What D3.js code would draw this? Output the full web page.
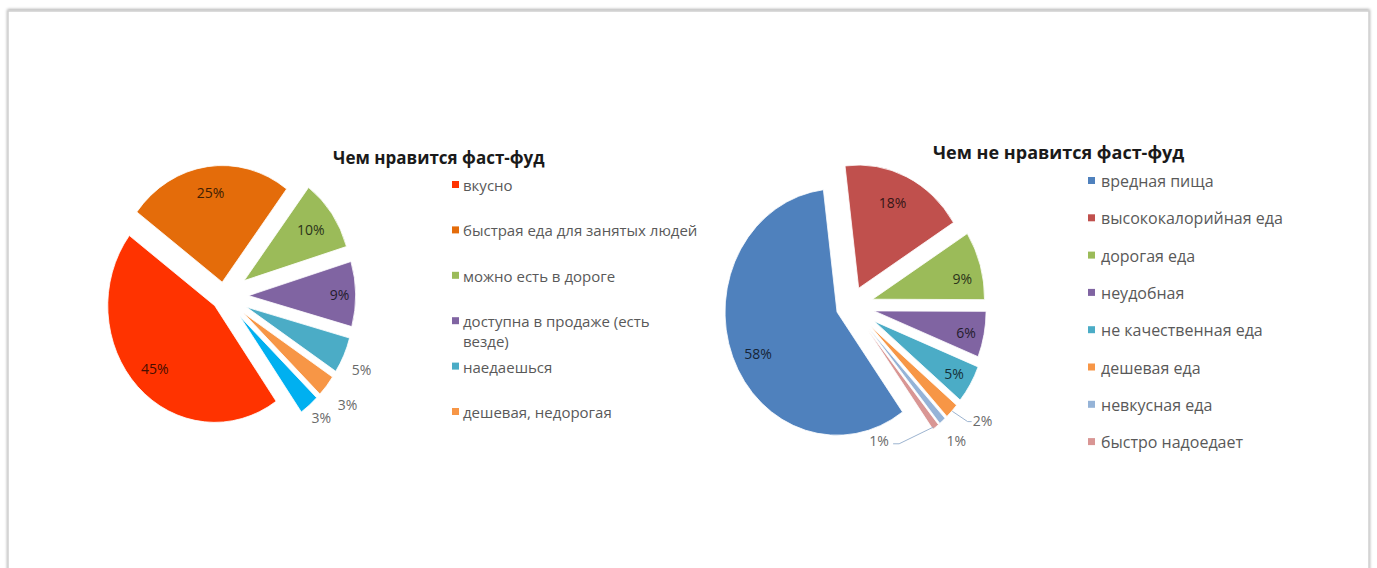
<!DOCTYPE html>
<html><head><meta charset="utf-8">
<script src="https://cdn.jsdelivr.net/npm/d3@7"></script>
<style>
  body { margin: 0; background: #fff; }
  svg { display: block; }
</style>
</head><body>
<svg id="chart" width="1377" height="568"></svg>
<script>
// ---- data: what people like about fast food ----
const likeTitle = "Чем нравится фаст-фуд";
const likeCategories = [
  "вкусно",
  "быстрая еда для занятых людей",
  "можно есть в дороге",
  "доступна в продаже (есть везде)",
  "наедаешься",
  "дешевая, недорогая",
  "другое"
];
const likeValues = [45, 25, 10, 9, 5, 3, 3];
const likeLabels = ["45%", "25%", "10%", "9%", "5%", "3%", "3%"];

// ---- data: what people dislike about fast food ----
const dislikeTitle = "Чем не нравится фаст-фуд";
const dislikeCategories = [
  "вредная пища",
  "высококалорийная еда",
  "дорогая еда",
  "неудобная",
  "не качественная еда",
  "дешевая еда",
  "невкусная еда",
  "быстро надоедает"
];
const dislikeValues = [58, 18, 9, 6, 5, 2, 1, 1];
const dislikeLabels = ["58%", "18%", "9%", "6%", "5%", "2%", "1%", "1%"];

// ---- styling ----
const likeColors = ["#FF3300", "#E46C0A", "#9BBB59", "#8064A2", "#4BACC6", "#F79646", "#00B0F0"];
const dislikeColors = ["#4F81BD", "#C0504D", "#9BBB59", "#8064A2", "#4BACC6", "#F79646", "#95B3D7", "#D99694"];

// explosion of each slice, as a fraction of the radius
const likeExplode = [0.12, 0.12, 0.23, 0.23, 0.23, 0.23, 0.23];
const dislikeExplode = [0.134, 0.16, 0.2, 0.21, 0.24, 0.24, 0.24, 0.24];

// label placement: distance (fraction of radius) from the slice tip, angle shift in degrees
const likeLabelPlace = [
  { f: 0.78 }, { f: 0.78 }, { f: 0.76 }, { f: 0.85 },
  { f: 1.2, da: 2, out: true }, { f: 1.25, da: 0, out: true }, { f: 1.15, da: -1, out: true }
];
const dislikeLabelPlace = [
  { f: 0.78, da: -4 }, { f: 0.76, da: -2 }, { f: 0.82, da: 4 }, { f: 0.84, da: 1 }, { f: 0.83 },
  { f: 1.26, da: -6, out: true, leader: "right" },
  { f: 1.2, da: 0.6, out: true },
  { f: 0.91, da: 31, out: true, leader: "left" }
];

const FONT = "'Open Sans', 'DejaVu Sans', sans-serif";
const svg = d3.select("#chart");
const deg = Math.PI / 180;

// drop shadow for the chart frame
const defs = svg.append("defs");
const shadow = defs.append("filter").attr("id", "frameShadow")
  .attr("x", "-5%").attr("y", "-5%").attr("width", "110%").attr("height", "110%");
shadow.append("feGaussianBlur").attr("in", "SourceAlpha").attr("stdDeviation", 1.6).attr("result", "b");
shadow.append("feOffset").attr("in", "b").attr("dx", 0).attr("dy", -1).attr("result", "o");
shadow.append("feComponentTransfer").attr("in", "o").attr("result", "s")
  .append("feFuncA").attr("type", "linear").attr("slope", 0.35);
const merge = shadow.append("feMerge");
merge.append("feMergeNode").attr("in", "s");
merge.append("feMergeNode").attr("in", "SourceGraphic");

svg.append("rect")
  .attr("x", 8).attr("y", 11).attr("width", 1361).attr("height", 640)
  .attr("fill", "#fff").attr("stroke", "#cfcfcf").attr("stroke-width", 1.5)
  .attr("filter", "url(#frameShadow)");

function polar(a, d) { return [Math.sin(a) * d, -Math.cos(a) * d]; }

function drawPie(opt) {
  const { values, labels, colors, explode, place, cx, cy, r, sy, start } = opt;
  const pie = d3.pie().sort(null).value(d => d)
    .startAngle(start * deg).endAngle(start * deg + 2 * Math.PI);
  const arcs = pie(values);
  const arc = d3.arc().innerRadius(0).outerRadius(r);

  const g = svg.append("g").attr("transform", `translate(${cx},${cy}) scale(1,${sy})`);
  g.selectAll("path").data(arcs).join("path")
    .attr("d", arc)
    .attr("transform", (d, i) => {
      const m = (d.startAngle + d.endAngle) / 2;
      const [ox, oy] = polar(m, explode[i] * r);
      return `translate(${ox},${oy})`;
    })
    .attr("fill", (d, i) => colors[i])
    .attr("stroke", "#fff").attr("stroke-width", 0.8)
    .attr("vector-effect", "non-scaling-stroke");

  const toScreen = (x, y) => [cx + x, cy + y * sy];

  arcs.forEach((d, i) => {
    const p = place[i];
    const m = (d.startAngle + d.endAngle) / 2;
    const [ax, ay] = polar(m, explode[i] * r);
    const [lx, ly] = polar(m + (p.da || 0) * deg, p.f * r);
    const [sx, sy2] = toScreen(ax + lx, ay + ly);
    const col = p.out ? "#6a6a6a" : d3.interpolateRgb(colors[i], "#000")(0.72);

    if (p.leader) {
      const [ex, ey] = polar(m, r * 0.98);
      const [px, py] = toScreen(ax + ex, ay + ey);
      const pts = p.leader === "right"
        ? [[px + 2, py + 2], [sx - 15, sy2 + 1], [sx - 11, sy2 + 1]]
        : [[px - 1, py + 2], [sx + 20, sy2 + 3], [sx + 14, sy2 + 3]];
      svg.append("polyline")
        .attr("points", pts.map(q => q.join(",")).join(" "))
        .attr("fill", "none").attr("stroke", "#9db4d0").attr("stroke-width", 1);
    }

    svg.append("text")
      .attr("x", sx).attr("y", sy2)
      .attr("text-anchor", "middle").attr("dominant-baseline", "central")
      .attr("font-family", FONT).attr("font-size", 14)
      .attr("fill", col)
      .text(labels[i]);
  });
}

function drawLegend(opt) {
  const { categories, colors, count, x, y, step, maxWidth, size, gap } = opt;
  const items = categories.slice(0, count);
  items.forEach((name, i) => {
    const yy = y + i * step;
    svg.append("rect")
      .attr("x", x).attr("y", yy - 4).attr("width", 7).attr("height", 7)
      .attr("fill", colors[i]);
    const t = svg.append("text")
      .attr("x", x + gap).attr("y", yy)
      .attr("dominant-baseline", "central")
      .attr("font-family", FONT).attr("font-size", size)
      .attr("fill", "#595959");
    // simple word wrap
    const words = name.split(" ");
    let line = [];
    let tspan = t.append("tspan").attr("x", x + gap).attr("dy", 0);
    words.forEach(w => {
      line.push(w);
      tspan.text(line.join(" "));
      if (tspan.node().getComputedTextLength() > maxWidth && line.length > 1) {
        line.pop();
        tspan.text(line.join(" "));
        line = [w];
        tspan = t.append("tspan").attr("x", x + gap).attr("dy", 20).text(w);
      }
    });
  });
}

function drawTitle(text, x, y, size) {
  svg.append("text")
    .attr("x", x).attr("y", y)
    .attr("dominant-baseline", "central")
    .attr("font-family", FONT).attr("font-size", size).attr("font-weight", "bold")
    .attr("fill", "#1a1a1a")
    .text(text);
}

// left chart
drawTitle(likeTitle, 333, 157, 17);
drawPie({
  values: likeValues, labels: likeLabels, colors: likeColors,
  explode: likeExplode, place: likeLabelPlace,
  cx: 224, cy: 296, r: 107, sy: 1.09, start: 145
});
drawLegend({
  categories: likeCategories, colors: likeColors, count: 6,
  x: 452, y: 185, step: 45.4, maxWidth: 236, size: 15, gap: 11
});

// right chart
drawTitle(dislikeTitle, 933, 152, 18);
drawPie({
  values: dislikeValues, labels: dislikeLabels, colors: dislikeColors,
  explode: dislikeExplode, place: dislikeLabelPlace,
  cx: 851, cy: 306, r: 112, sy: 1.1, start: 144.2
});
drawLegend({
  categories: dislikeCategories, colors: dislikeColors, count: 8,
  x: 1088, y: 181, step: 37.3, maxWidth: 260, size: 16, gap: 13
});
</script>
</body></html>
